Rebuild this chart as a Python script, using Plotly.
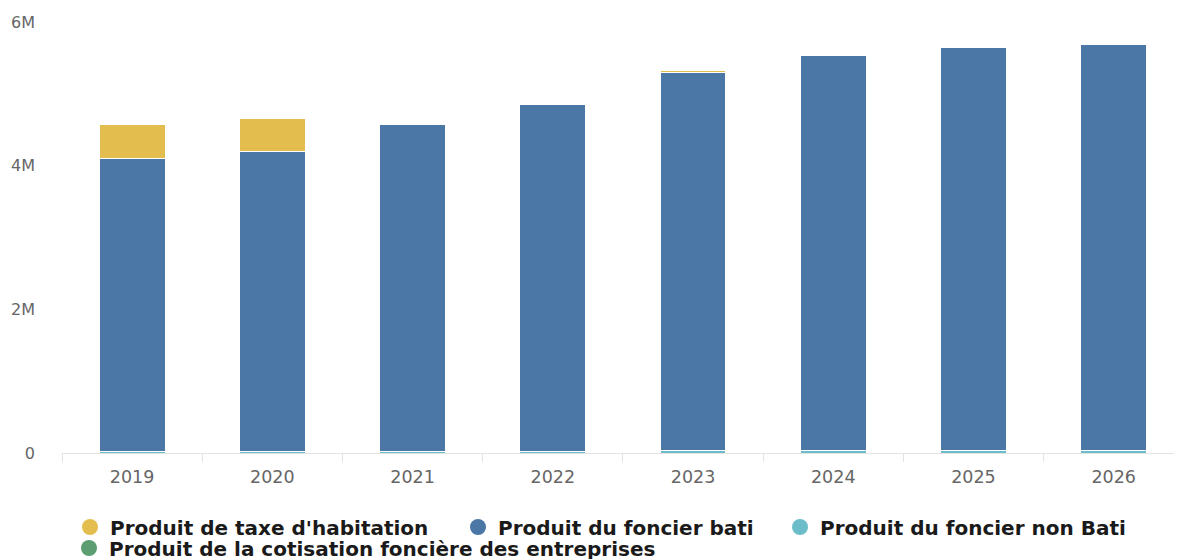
import plotly.graph_objects as go

years = ["2019", "2020", "2021", "2022", "2023", "2024", "2025", "2026"]
habitation = [473000, 465000, 0, 0, 35000, 0, 0, 0]
foncier_bati = [4088000, 4180000, 4561000, 4830000, 5254000, 5500000, 5608000, 5650000]
foncier_non_bati = [15000, 15000, 15000, 15000, 40000, 40000, 40000, 40000]
cotisation = [0, 0, 0, 0, 0, 0, 0, 0]

names = ["Produit de taxe d'habitation", "Produit du foncier bati",
         "Produit du foncier non Bati", "Produit de la cotisation foncière des entreprises"]
colors = ["#E3BE4E", "#4A77A6", "#6DBCC9", "#5C9E72"]

fig = go.Figure()
# stacked bars: bottom to top
stack = [(foncier_non_bati, 2), (cotisation, 3), (foncier_bati, 1), (habitation, 0)]
for vals, i in stack:
    fig.add_trace(go.Bar(x=years, y=vals, name=names[i], marker_color=colors[i],
                         marker_line_color="white", marker_line_width=1,
                         showlegend=False, hoverinfo="x+y+name"))
# legend entries with round markers, one legend box per entry
legend_ids = ["legend", "legend2", "legend3", "legend4"]
for i in range(4):
    fig.add_trace(go.Scatter(x=[None], y=[None], mode="markers", name=names[i],
                             legend=legend_ids[i],
                             marker=dict(color=colors[i], size=18, symbol="circle")))

legend_font = dict(family="DejaVu Sans", size=20, color="#1a1a1a", weight="bold")
leg_pos = [(0.0072, -0.1717), (0.3561, -0.1717), (0.6457, -0.1717), (0.0063, -0.2204)]
legends = {}
for lid, (lx, ly) in zip(legend_ids, leg_pos):
    legends[lid] = dict(orientation="h", x=lx, xanchor="left", y=ly, yanchor="middle",
                        font=legend_font, itemsizing="trace",
                        bgcolor="rgba(0,0,0,0)")

fig.update_layout(
    barmode="stack",
    bargap=0.531,
    width=1166, height=551,
    margin=dict(l=54, r=0, t=14, b=106, autoexpand=False),
    paper_bgcolor="white", plot_bgcolor="white",
    font=dict(family="DejaVu Sans", color="#666666"),
    xaxis=dict(type="category", range=[-0.5, 7.43], tickson="boundaries", ticks="outside",
               ticklen=8, tickcolor="#e3e3e3", showline=True, linecolor="#e3e3e3",
               linewidth=1, tickfont=dict(size=17.5, color="#666666"), showgrid=False,
               ticklabelstandoff=8, automargin=False),
    yaxis=dict(range=[0, 6000000], tickvals=[0, 2000000, 4000000, 6000000],
               ticktext=["0", "2M", "4M", "6M"], showgrid=False, zeroline=False,
               tickfont=dict(size=16, color="#666666"), ticklabelstandoff=26,
               automargin=False),
    **legends,
)

fig.write_html("out.html")
